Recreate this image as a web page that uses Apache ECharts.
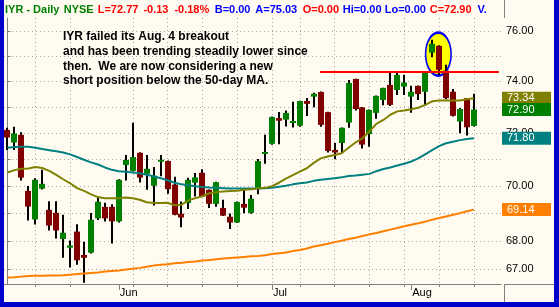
<!DOCTYPE html>
<html><head><meta charset="utf-8">
<script src="https://cdn.jsdelivr.net/npm/echarts@6/dist/echarts.min.js"></script>
<style>
html,body{margin:0;padding:0;background:#0000CC;overflow:hidden;}
#c{width:550px;height:302px;border-left:4px solid #0000CC;border-right:5px solid #0000CC;border-bottom:5px solid #0000CC;background:#FFFBF0;}
</style></head><body><div id="c"></div>
<script>
const dates = ['05-09','05-10','05-11','05-12','05-15','05-16','05-17','05-18','05-19','05-22','05-23','05-24','05-25','05-26','05-30','05-31',
 '06-01','06-02','06-05','06-06','06-07','06-08','06-09','06-12','06-13','06-14','06-15','06-16','06-19','06-20','06-21','06-22','06-23','06-26','06-27','06-28','06-29','06-30',
 '07-03','07-05','07-06','07-07','07-10','07-11','07-12','07-13','07-14','07-17','07-18','07-19','07-20','07-21','07-24','07-25','07-26','07-27','07-28','07-31',
 '08-01','08-02','08-03','08-04','08-07','08-08','08-09','08-10','08-11','08-14'];
const opens = [72.12,71.64,71.93,69.83,68.78,69.91,69.13,69.02,68.07,67.76,
 68.34,67.50,67.58,68.82,69.24,69.24,68.71,70.79,70.57,71.25,
 70.46,70.02,70.92,70.94,70.06,68.99,69.38,70.13,70.50,69.87,
 69.35,69.20,68.88,68.67,69.35,69.02,69.92,71.23,71.59,72.57,
 72.51,72.40,72.28,73.23,73.40,73.58,72.80,71.36,71.62,72.40,
 74.09,72.98,71.96,72.77,73.27,73.86,73.66,73.79,73.40,73.82,
 73.59,75.13,75.40,74.42,73.59,72.44,73.34,72.27];
const closes = [71.83,71.98,70.32,69.25,70.24,70.09,68.56,68.38,68.30,67.84,
 67.31,67.40,68.77,69.43,68.82,68.71,70.24,70.98,71.09,70.32,
 70.65,70.39,70.99,69.89,68.95,68.85,70.24,70.33,69.61,69.35,
 70.15,68.92,68.67,69.42,69.21,69.54,70.94,71.28,72.61,72.47,
 72.77,72.46,73.23,73.12,73.51,72.31,71.32,71.26,72.20,73.93,
 72.92,71.56,72.89,73.43,73.74,73.08,74.25,73.95,73.59,73.50,
 74.36,75.48,74.45,73.34,72.66,72.92,72.22,72.90];
const lows = [71.36,71.36,70.21,68.74,68.60,69.88,68.38,68.09,67.40,67.05,
 67.15,66.51,67.55,68.76,68.71,67.91,68.67,70.21,70.55,70.14,
 69.87,69.29,70.37,69.72,68.93,68.50,69.16,69.62,69.60,69.20,
 69.24,68.91,68.43,68.65,69.01,68.99,69.70,70.84,71.55,71.57,
 72.25,72.21,72.24,72.65,72.99,72.24,71.26,71.01,71.24,72.20,
 72.86,71.41,71.48,72.55,73.07,73.04,73.46,73.46,72.78,73.27,
 73.04,74.95,74.25,73.30,72.63,71.99,71.91,72.25];
const highs = [72.20,72.24,72.03,70.01,70.30,70.61,69.45,69.45,68.95,68.02,
 68.61,67.97,69.02,69.59,69.39,69.34,70.26,71.17,72.39,71.27,
 71.17,70.72,71.17,70.96,70.35,69.44,70.32,70.49,70.63,69.88,
 70.17,69.50,69.00,69.44,69.87,69.68,71.02,71.93,72.63,72.81,
 72.86,73.20,73.24,73.35,73.55,73.60,72.82,71.62,72.21,74.05,
 74.10,73.00,72.90,73.44,73.75,74.33,74.32,74.25,73.82,73.83,
 74.38,75.64,75.42,74.65,73.70,72.96,73.35,73.51];
const ma20 = [70.51,70.60,70.65,70.66,70.72,70.68,70.57,70.42,70.26,70.11,
 69.93,69.83,69.70,69.60,69.56,69.56,69.56,69.58,69.56,69.50,
 69.41,69.38,69.38,69.39,69.30,69.32,69.48,69.56,69.63,69.74,
 69.78,69.81,69.82,69.83,69.87,69.89,69.92,69.94,70.00,70.13,
 70.28,70.41,70.54,70.67,70.87,71.04,71.11,71.17,71.23,71.44,
 71.64,71.80,72.07,72.35,72.50,72.70,72.83,72.86,72.91,72.97,
 73.08,73.22,73.25,73.25,73.25,73.25,73.30,73.34];
const ma50 = [71.44,71.47,71.48,71.48,71.44,71.39,71.35,71.31,71.26,71.19,
 71.09,70.99,70.89,70.81,70.70,70.61,70.56,70.54,70.51,70.48,
 70.43,70.37,70.30,70.22,70.13,70.07,70.04,70.00,69.97,69.95,
 69.94,69.93,69.92,69.92,69.92,69.92,69.92,69.93,69.94,69.98,
 70.02,70.07,70.11,70.14,70.20,70.24,70.27,70.30,70.33,70.38,
 70.40,70.43,70.46,70.56,70.64,70.70,70.77,70.84,70.92,71.04,
 71.19,71.35,71.50,71.61,71.67,71.73,71.77,71.80];
const ma200 = [66.70,66.71,66.73,66.75,66.76,66.76,66.77,66.77,66.78,66.80,
 66.82,66.84,66.86,66.88,66.91,66.93,66.95,66.98,67.01,67.04,
 67.08,67.12,67.15,67.17,67.20,67.22,67.25,67.27,67.30,67.32,
 67.35,67.37,67.39,67.41,67.43,67.45,67.46,67.49,67.53,67.56,
 67.59,67.64,67.68,67.73,67.80,67.85,67.90,67.96,68.01,68.07,
 68.12,68.18,68.24,68.29,68.35,68.41,68.47,68.53,68.59,68.64,
 68.70,68.77,68.83,68.89,68.95,69.01,69.08,69.14];
const yTickValues = [67,68,69,70,71,72,73,74,75,76];
const yLabelValues = [76,74,72,70,68,67];
const tagValues = [73.34, 72.90, 71.80, 69.14];
const weekTickDates = ['05-15','05-22','06-05','06-12','06-19','06-26','07-03','07-10','07-17','07-24','07-31','08-07','08-14'];
const monthStartDates = ['06-01','07-03','08-01'];
const monthLabels = ['Jun','Jul','Aug'];
const headerTexts = ['IYR - Daily','NYSE','L=72.77','-0.13','-0.18%','B=0.00','A=75.03','O=0.00','Hi=0.00','Lo=0.00','C=72.90','V.'];
const noteLines = ['IYR failed its Aug. 4 breakout','and has been trending steadily lower since','then.  We are now considering a new','short position below the 50-day MA.'];
const resistanceLevel = 74.38;
const resistanceSpan = [44.9, 70.6];
const highlight = [61.9, 75.07];

const L = Math.log;
const FONT = '"Liberation Sans", Arial, sans-serif';
const idx = d => dates.indexOf(d);
const weekTicks = weekTickDates.map(idx);
const monthTicks = monthStartDates.map(idx);
const xMin = -0.5, xMax = 70.9;
const yMin = L(66.47), yMax = L(76.52);

const headerColors = ['#008000','#008000','#FF0000','#FF0000','#FF0000','#0000FF','#0000FF','#FF0000','#0000FF','#0000FF','#FF0000','#0000FF'];
const headerWidths = [58.7,34,45.7,31,40.3,40.6,47.4,40,42,45,47.7,20];
const headerRich = {};
headerTexts.forEach((t,k)=>{ headerRich['h'+k] = {color: headerColors[k], width: headerWidths[k], fontSize: 11, fontFamily: FONT}; });

const tagColors = ['#808000','#008000','#008080','#FF8000'];
const tagAxis = k => ({
  type: 'value', position: 'right', min: yMin, max: yMax,
  axisLine: {show: false}, axisTick: {show: false}, splitLine: {show: false},
  axisLabel: {show: true, customValues: [L(tagValues[k])], margin: 1, hideOverlap: false,
    formatter: () => '{t|' + tagValues[k].toFixed(2) + '}',
    rich: {t: {backgroundColor: tagColors[k], color: '#FFFFFF', width: 44, height: 13, lineHeight: 13,
               padding: [0,0,0,5], fontSize: 11, fontFamily: FONT}}}
});

const candleData = dates.map((d,i)=>[i, L(opens[i]), L(closes[i]), L(lows[i]), L(highs[i])]);
const lineData = arr => arr.map((v,i)=>[i, L(v)]);

const chart = echarts.init(document.getElementById('c'), null, {renderer:'canvas'});
chart.setOption({
  backgroundColor: '#FFFBF0',
  animation: false,
  title: [
    {left: 1, top: 4, padding: 0,
     text: headerTexts.map((t,k)=>'{h'+k+'|'+t+'}').join(''),
     textStyle: {rich: headerRich, fontSize: 11, fontFamily: FONT}},
    {left: 59, top: 29.7, padding: 0, text: noteLines.join('\n'),
     textStyle: {fontSize: 12, fontWeight: 'bold', lineHeight: 14.7, color: '#000', fontFamily: FONT}}
  ],
  grid: {left: 0, top: 18, width: 500, bottom: 18},
  xAxis: [
    {type: 'value', min: xMin, max: xMax, position: 'bottom',
     axisLine: {show: true, lineStyle: {color: '#808080'}},
     axisTick: {show: true, customValues: weekTicks, length: 3, lineStyle: {color: '#808080'}},
     axisLabel: {show: false},
     splitLine: {show: true, lineStyle: {color: '#A8A8A8', type: [1,3]}}},
    {type: 'value', min: xMin, max: xMax, position: 'bottom',
     axisLine: {show: false},
     axisTick: {show: true, customValues: monthTicks, length: 6, lineStyle: {color: '#808080'}},
     axisLabel: {show: true, customValues: monthTicks, formatter: v => monthLabels[monthTicks.indexOf(v)],
       align: 'left', margin: 3, padding: [0,0,0,1], color: '#000', fontSize: 11, fontFamily: FONT, hideOverlap: false},
     splitLine: {show: false}}
  ],
  yAxis: [
    {type: 'value', position: 'right', min: yMin, max: yMax,
     axisLine: {show: true, lineStyle: {color: '#808080'}},
     axisTick: {show: true, customValues: yTickValues.map(L), length: 3, lineStyle: {color: '#808080'}},
     axisLabel: {show: true, customValues: yLabelValues.map(L), formatter: v => Math.exp(v).toFixed(2),
       margin: 5, color: '#000', fontSize: 11, fontFamily: FONT, hideOverlap: false},
     splitLine: {show: true, lineStyle: {color: '#A8A8A8', type: [1,3]}}},
    tagAxis(0), tagAxis(1), tagAxis(2), tagAxis(3)
  ],
  graphic: [
    {type: 'line', silent: true, shape: {x1: 500.5, y1: 0, x2: 500.5, y2: 18}, style: {stroke: '#808080', lineWidth: 1}},
    {type: 'line', silent: true, shape: {x1: 500.5, y1: 284, x2: 500.5, y2: 302}, style: {stroke: '#808080', lineWidth: 1}},
    {type: 'line', silent: true, shape: {x1: 500, y1: 284.5, x2: 550, y2: 284.5}, style: {stroke: '#808080', lineWidth: 1}}
  ],
  series: [
    {type: 'scatter', z: 1, silent: true, data: [[highlight[0], L(highlight[1])]],
     symbol: 'path://M0,1a1,1 0 1,0 2,0a1,1 0 1,0 -2,0z', symbolSize: [25.5, 43],
     itemStyle: {color: '#FFFF00', borderColor: '#0000FF', borderWidth: 2, opacity: 1}},
    {type: 'custom', z: 2, data: candleData, encode: {x: 0, y: [1,2,3,4]},
     renderItem: (params, api) => {
       const x = api.value(0);
       const pO = api.coord([x, api.value(1)]);
       const pC = api.coord([x, api.value(2)]);
       const pL = api.coord([x, api.value(3)]);
       const pH = api.coord([x, api.value(4)]);
       const cx = Math.round(pO[0]);
       const up = api.value(2) >= api.value(1);
       const top = Math.min(pO[1], pC[1]);
       const h = Math.max(Math.abs(pO[1]-pC[1]), 2);
       return {type: 'group', children: [
         {type: 'rect', shape: {x: cx-1, y: pH[1], width: 2, height: pL[1]-pH[1]}, style: {fill: '#000'}},
         {type: 'rect', shape: {x: cx-3, y: top, width: 6, height: h}, style: {fill: up ? '#008000' : '#800000'}}
       ]};
     },
     markLine: {symbol: 'none', silent: true, z: 6, label: {show: false},
       lineStyle: {color: '#FF0000', width: 2, type: 'solid'},
       data: [[{coord: [resistanceSpan[0], L(resistanceLevel)]}, {coord: [resistanceSpan[1], L(resistanceLevel)]}]]}
    },
    {type: 'line', z: 3, data: lineData(ma200), showSymbol: false, lineStyle: {color: '#FF8000', width: 2}},
    {type: 'line', z: 3, data: lineData(ma50), showSymbol: false, lineStyle: {color: '#008080', width: 2}},
    {type: 'line', z: 3, data: lineData(ma20), showSymbol: false, lineStyle: {color: '#808000', width: 2}}
  ]
});
</script></body></html>
